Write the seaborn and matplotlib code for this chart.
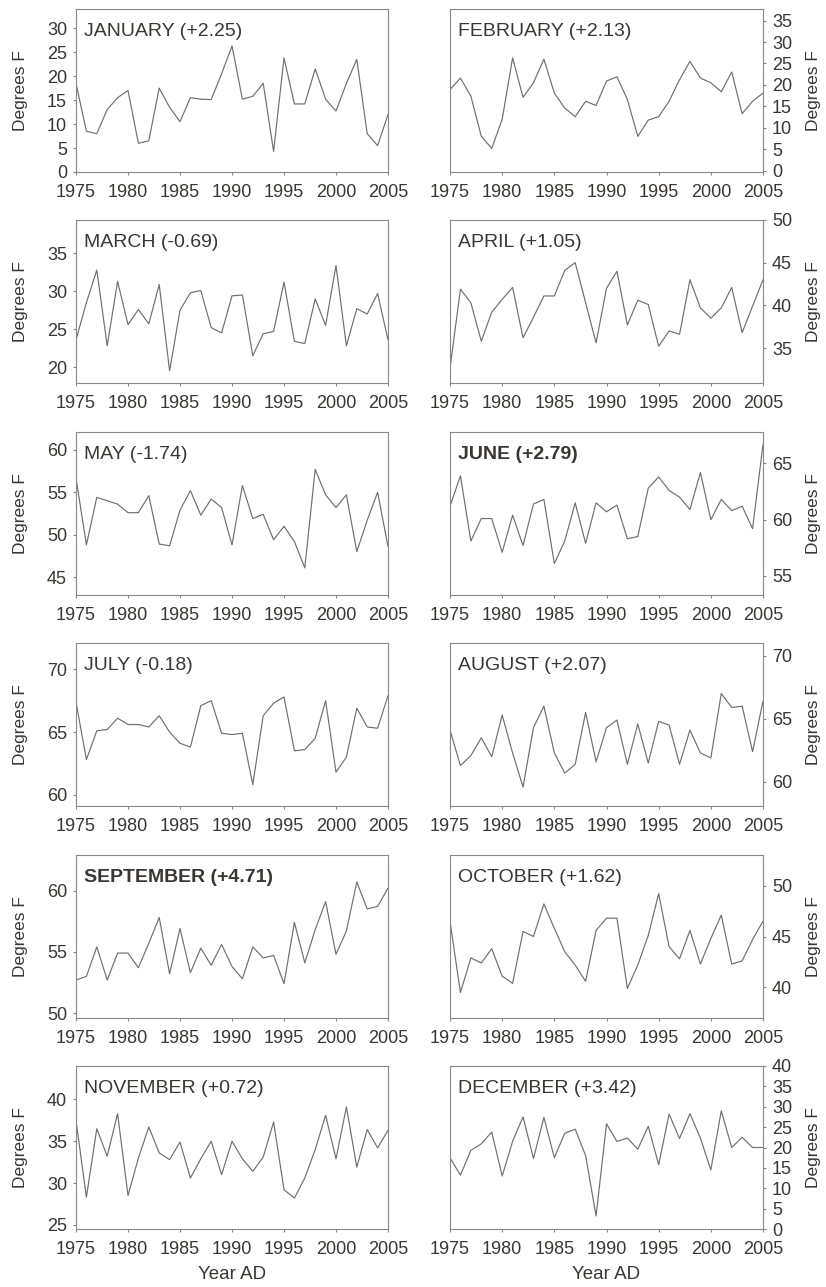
import numpy as np
import pandas as pd
import matplotlib
matplotlib.use("Agg")
import matplotlib.pyplot as plt
import seaborn as sns

years = list(range(1975, 2006))

january = [18.5, 8.5, 8.0, 13.0, 15.5, 17.0, 6.0, 6.5, 17.5, 13.5, 10.5, 15.5, 15.2, 15.1, 20.5, 26.3,
           15.2, 15.8, 18.5, 4.3, 23.8, 14.2, 14.2, 21.5, 15.2, 12.7, 18.5, 23.5, 8.0, 5.5, 12.0]
february = [18.9, 21.6, 17.4, 8.0, 5.2, 12.0, 26.3, 17.1, 20.5, 26.0, 18.1, 14.6, 12.6, 16.2, 15.2, 20.9,
            21.9, 16.6, 8.0, 11.8, 12.6, 16.2, 21.2, 25.5, 21.6, 20.5, 18.4, 23.0, 13.3, 16.2, 18.1]
march = [23.6, 28.5, 32.8, 22.8, 31.3, 25.6, 27.6, 25.7, 30.9, 19.5, 27.5, 29.8, 30.1, 25.2, 24.5, 29.4,
         29.5, 21.5, 24.4, 24.7, 31.2, 23.4, 23.1, 29.0, 25.5, 33.4, 22.8, 27.7, 27.0, 29.7, 23.6]
april = [32.6, 41.9, 40.3, 35.8, 39.2, 40.7, 42.1, 36.2, 38.6, 41.1, 41.1, 44.1, 45.0, 40.3, 35.6, 42.0,
         44.0, 37.7, 40.6, 40.1, 35.2, 37.0, 36.6, 43.0, 39.7, 38.5, 39.7, 42.1, 36.8, 39.9, 43.0]
may = [56.7, 48.8, 54.4, 54.0, 53.6, 52.6, 52.6, 54.6, 48.9, 48.7, 52.9, 55.2, 52.3, 54.2, 53.2, 48.8,
       55.8, 51.9, 52.4, 49.4, 51.0, 49.2, 46.1, 57.7, 54.7, 53.2, 54.7, 48.0, 51.7, 55.0, 48.6]
june = [61.2, 63.9, 58.1, 60.1, 60.1, 57.1, 60.4, 57.7, 61.4, 61.8, 56.1, 58.1, 61.5, 57.9, 61.5, 60.7,
        61.3, 58.3, 58.5, 62.8, 63.8, 62.6, 62.0, 60.9, 64.2, 60.0, 61.8, 60.8, 61.2, 59.2, 66.7]
july = [67.4, 62.8, 65.1, 65.2, 66.1, 65.6, 65.6, 65.4, 66.3, 65.0, 64.1, 63.8, 67.1, 67.5, 64.9, 64.8,
        64.9, 60.8, 66.3, 67.3, 67.8, 63.5, 63.6, 64.5, 67.5, 61.8, 63.0, 66.9, 65.4, 65.3, 67.9]
august = [64.1, 61.3, 62.1, 63.5, 62.0, 65.3, 62.3, 59.6, 64.3, 66.0, 62.3, 60.7, 61.4, 65.5, 61.6, 64.3,
          64.9, 61.4, 64.6, 61.5, 64.8, 64.5, 61.4, 64.1, 62.3, 61.9, 67.0, 65.9, 66.0, 62.4, 66.4]
september = [52.7, 53.0, 55.4, 52.7, 54.9, 54.9, 53.7, 55.7, 57.8, 53.2, 56.9, 53.3, 55.3, 53.9, 55.6, 53.8,
             52.8, 55.4, 54.5, 54.7, 52.4, 57.4, 54.1, 56.8, 59.1, 54.8, 56.7, 60.7, 58.5, 58.7, 60.2]
october = [46.5, 39.5, 42.9, 42.4, 43.8, 41.1, 40.4, 45.5, 45.0, 48.2, 45.8, 43.5, 42.2, 40.6, 45.6, 46.8,
           46.8, 39.9, 42.2, 45.1, 49.2, 44.0, 42.8, 45.6, 42.3, 44.8, 47.1, 42.3, 42.6, 44.7, 46.5]
november = [37.5, 28.3, 36.5, 33.2, 38.3, 28.5, 33.0, 36.7, 33.6, 32.8, 34.9, 30.6, 32.9, 35.0, 31.0, 35.0,
            32.9, 31.4, 33.1, 37.3, 29.2, 28.2, 30.6, 34.0, 38.1, 32.9, 39.1, 31.9, 36.4, 34.2, 36.3]
december = [17.5, 13.2, 19.3, 20.9, 23.8, 13.0, 21.5, 27.5, 17.3, 27.4, 17.5, 23.5, 24.5, 18.0, 3.2, 25.8,
            21.5, 22.3, 19.6, 25.2, 15.8, 28.2, 22.2, 28.3, 22.3, 14.5, 29.0, 20.0, 22.5, 20.0, 20.0]

titles = ["JANUARY (+2.25)", "FEBRUARY (+2.13)", "MARCH (-0.69)", "APRIL (+1.05)",
          "MAY (-1.74)", "JUNE (+2.79)", "JULY (-0.18)", "AUGUST (+2.07)",
          "SEPTEMBER (+4.71)", "OCTOBER (+1.62)", "NOVEMBER (+0.72)", "DECEMBER (+3.42)"]
series = [january, february, march, april, may, june, july, august, september, october, november, december]
ylims = [(0, 34), (-0.3, 37.7), (17.9, 39.4), (30.9, 50), (42.9, 62.1), (53.3, 67.8),
         (59.1, 72.1), (58.1, 71), (49.6, 62.9), (37, 53), (24.5, 44), (0, 40)]
yticks = [range(0, 31, 5), range(0, 36, 5), range(20, 36, 5), range(35, 51, 5),
          range(45, 61, 5), range(55, 66, 5), range(60, 71, 5), range(60, 71, 5),
          range(50, 61, 5), range(40, 51, 5), range(25, 41, 5), range(0, 41, 5)]
bold = {"JUNE (+2.79)", "SEPTEMBER (+4.71)"}

sns.set_theme(style="ticks")
plt.rcParams['font.family'] = ['Liberation Sans', 'DejaVu Sans']

W, H = 826, 1287
fig = plt.figure(figsize=(W / 100, H / 100), dpi=100)
fig.patch.set_facecolor("white")

row_tops = [9, 220, 432, 643, 855, 1066]
ax_h = 163
col_x = [(76, 388), (450, 763)]

txt = "#3a3632"
linec = "#736e6a"
spinec = "#8c8782"

for i, (title, vals) in enumerate(zip(titles, series)):
    r, c = divmod(i, 2)
    x0, x1 = col_x[c]
    top = row_tops[r]
    ax = fig.add_axes([x0 / W, 1 - (top + ax_h) / H, (x1 - x0) / W, ax_h / H])
    df = pd.DataFrame({"Year": years, "Temp": vals})
    sns.lineplot(data=df, x="Year", y="Temp", ax=ax, color=linec, linewidth=0.85)
    ax.set_xlim(1975, 2005)
    ax.set_ylim(*ylims[i])
    ax.set_xticks(range(1975, 2006, 5))
    ax.set_yticks(list(yticks[i]))
    for s in ax.spines.values():
        s.set_color(spinec)
        s.set_linewidth(0.8)
    ax.tick_params(axis="both", direction="out", length=2.5, width=0.8, color=spinec,
                   labelsize=13, labelcolor=txt)
    ax.tick_params(axis="x", pad=6)
    ax.tick_params(axis="y", pad=4)
    ax.set_xlabel("")
    if c == 1:
        ax.yaxis.tick_right()
        ax.yaxis.set_label_position("right")
        ax.set_ylabel("Degrees F", fontsize=12.5, color=txt, rotation=90)
        ax.yaxis.set_label_coords(1.137, 0.5)
    else:
        ax.set_ylabel("Degrees F", fontsize=12.5, color=txt)
        ax.yaxis.set_label_coords(-0.155, 0.5)
    ax.text(0.025, 0.86, title, transform=ax.transAxes, fontsize=14, color=txt,
            ha="left", va="center", fontweight="bold" if title in bold else "normal")
    if r == 5:
        ax.set_xlabel("Year AD", fontsize=13.5, color=txt)
        ax.xaxis.set_label_coords(0.5, -0.225)

fig.savefig("out.png", dpi=100, facecolor="white")
